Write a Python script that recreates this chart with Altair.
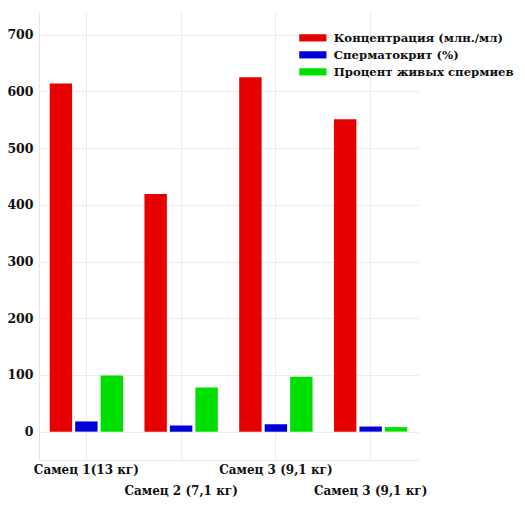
import altair as alt
import pandas as pd
import json

keys = ["m1", "m2", "m3", "m4"]
labels = ["Самец 1(13 кг)", "Самец 2 (7,1 кг)", "Самец 3 (9,1 кг)", "Самец 3 (9,1 кг)"]
series = ["Концентрация (млн./мл)", "Сперматокрит (%)", "Процент живых спермиев"]
concentration = [614, 419, 625, 551]
spermatocrit = [18, 11, 13, 9]
live_percent = [99, 78, 97, 8]
colors = ["#e60000", "#0000d8", "#00e000"]
y_ticks = [0, 100, 200, 300, 400, 500, 600, 700]

rows = []
for i, k in enumerate(keys):
    for s, vals in zip(series, [concentration, spermatocrit, live_percent]):
        rows.append({"male": k, "series": s, "value": vals[i]})
df = pd.DataFrame(rows)

lab_arr = [lab if i % 2 == 0 else ["", lab] for i, lab in enumerate(labels)]
label_expr = f"{json.dumps(lab_arr, ensure_ascii=False)}[indexof({json.dumps(keys)}, datum.value)]"

FONT = "DejaVu Serif"

chart = alt.Chart(df).mark_bar().encode(
    x=alt.X("male:N", sort=keys, title=None,
            scale=alt.Scale(paddingInner=0, paddingOuter=0),
            axis=alt.Axis(labelExpr=label_expr, labelAngle=0, labelLineHeight=21,
                          labelFont=FONT, labelFontWeight="bold", labelFontSize=12,
                          labelColor="#111", labelPadding=4, labelBaseline="top",
                          ticks=False, domain=True, domainColor="#e6e6e6",
                          grid=True, gridColor="#ececec", bandPosition=0.5)),
    xOffset=alt.XOffset("series:N", sort=series,
                        scale=alt.Scale(domain=series, paddingInner=0.12, paddingOuter=0.42)),
    y=alt.Y("value:Q", title=None,
            scale=alt.Scale(domain=[-50, 740], nice=False, zero=False),
            axis=alt.Axis(values=y_ticks, format="d", labelFont=FONT, labelFontWeight="bold",
                          labelFontSize=12.5, labelColor="#111", labelPadding=6, ticks=False,
                          domain=True, domainColor="#e6e6e6", gridColor="#ececec")),
    color=alt.Color("series:N", sort=series,
                    scale=alt.Scale(domain=series, range=colors),
                    legend=alt.Legend(title=None, orient="none", legendX=268, legendY=20,
                                      symbolType="M-3.4,-0.9H3.4V0.9H-3.4Z", symbolSize=64,
                                      symbolStrokeWidth=0, labelOffset=15,
                                      labelFont=FONT, labelFontWeight="bold", labelFontSize=11.7,
                                      labelColor="#111", rowPadding=4, labelLimit=300)),
).properties(
    width=379, height=448,
    autosize=alt.AutoSizeParams(type="none"),
    padding={"left": 31, "top": 4, "right": 99, "bottom": 41},
).configure_view(stroke=None)

chart.save("out.html", embed_options={"renderer": "svg", "actions": False})
